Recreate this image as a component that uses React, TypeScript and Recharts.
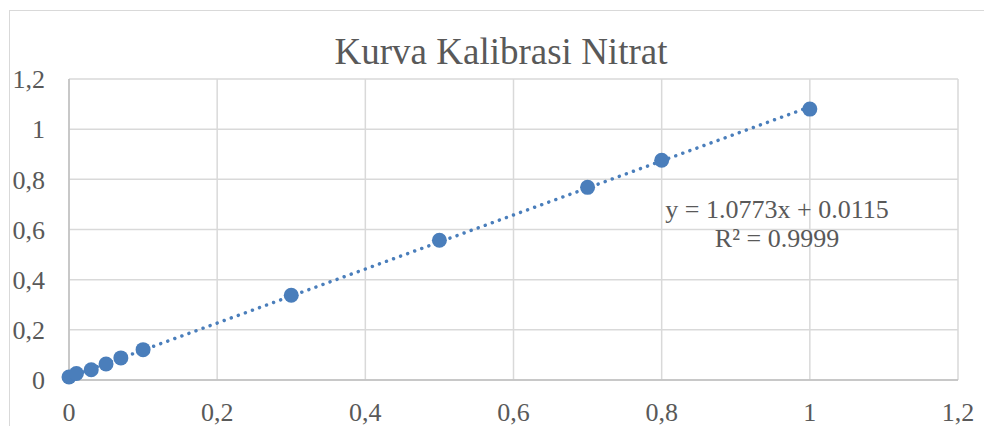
import React from "react";
import {
  ScatterChart,
  Scatter,
  XAxis,
  YAxis,
  CartesianGrid,
  ReferenceLine,
  Customized,
} from "recharts";

const concentration = [0, 0.01, 0.03, 0.05, 0.07, 0.1, 0.3, 0.5, 0.7, 0.8, 1];
const absorbance = [0.012, 0.026, 0.041, 0.064, 0.088, 0.121, 0.338, 0.557, 0.768, 0.876, 1.08];
const axisTicks = [0, 0.2, 0.4, 0.6, 0.8, 1, 1.2];

const slope = 1.0773;
const intercept = 0.0115;
const trendFrom = 0;
const trendTo = 1;

const title = "Kurva Kalibrasi Nitrat";
const equationLines = ["y = 1.0773x + 0.0115", "R² = 0.9999"];

const FONT = '"Liberation Serif", "Times New Roman", serif';
const TEXT = "#595959";
const BLUE = "#4a7ebb";

const points = concentration.map((x, i) => ({ x, y: absorbance[i] }));

const fmt = (v: number) => String(Number(v.toFixed(2))).replace(".", ",");

function Dot(props: any) {
  const { cx, cy } = props;
  if (cx == null || cy == null) return <g />;
  return <circle cx={cx} cy={cy} r={7.5} fill={BLUE} />;
}

function Labels() {
  return (
    <g fontFamily={FONT} fill={TEXT}>
      <text x={501} y={64} fontSize={37} textAnchor="middle">
        {title}
      </text>
      <text x={777} y={218} fontSize={26} textAnchor="middle">
        {equationLines[0]}
      </text>
      <text x={777} y={247} fontSize={26} textAnchor="middle">
        {equationLines[1]}
      </text>
    </g>
  );
}

export default function App() {
  return (
    <div style={{ position: "absolute", left: 0, top: 0, width: 984, height: 426, background: "#fff" }}>
      <div
        style={{
          position: "absolute",
          left: 9,
          top: 10,
          width: 975,
          height: 416,
          borderLeft: "1.5px solid #d9d9d9",
          borderTop: "1.5px solid #d9d9d9",
          boxSizing: "border-box",
        }}
      />
      <div style={{ position: "absolute", left: 0, top: 0 }}>
        <ScatterChart width={984} height={426} margin={{ top: 79, right: 26, bottom: 0, left: 0 }}>
          <CartesianGrid stroke="#d9d9d9" strokeWidth={1.5} />
          <XAxis
            type="number"
            dataKey="x"
            domain={[0, 1.2]}
            ticks={axisTicks}
            tickFormatter={fmt}
            height={46}
            tickLine={false}
            axisLine={{ stroke: "#bfbfbf", strokeWidth: 1.5 }}
            tickMargin={17}
            tick={{ fontSize: 26, fill: TEXT, fontFamily: FONT }}
            interval={0}
          />
          <YAxis
            type="number"
            dataKey="y"
            domain={[0, 1.2]}
            ticks={axisTicks}
            tickFormatter={fmt}
            width={69}
            tickLine={false}
            axisLine={{ stroke: "#bfbfbf", strokeWidth: 1.5 }}
            tickMargin={18}
            tick={{ fontSize: 26, fill: TEXT, fontFamily: FONT }}
            interval={0}
          />
          <ReferenceLine
            segment={[
              { x: trendFrom, y: slope * trendFrom + intercept },
              { x: trendTo, y: slope * trendTo + intercept },
            ]}
            stroke={BLUE}
            strokeWidth={3.5}
            strokeDasharray="0.01 7.5"
            strokeLinecap="round"
            ifOverflow="visible"
          />
          <Scatter data={points} shape={<Dot />} isAnimationActive={false} />
          <Customized component={<Labels />} />
        </ScatterChart>
      </div>
    </div>
  );
}
